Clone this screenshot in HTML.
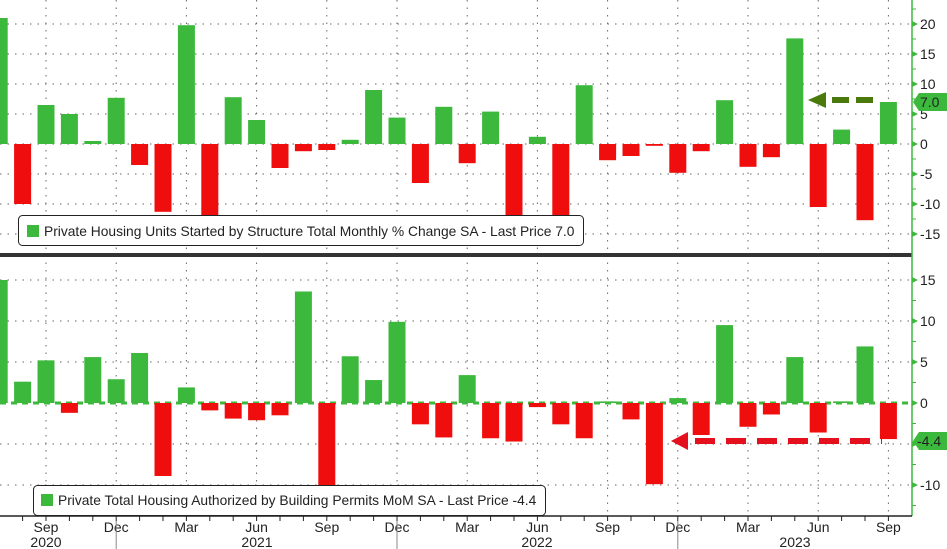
<!DOCTYPE html><html><head><style>body{margin:0;background:#fff}svg{display:block;font-family:"Liberation Sans",sans-serif}</style></head><body>
<svg id="s" width="947" height="549" xmlns="http://www.w3.org/2000/svg">
<defs><clipPath id="ct"><rect x="0" y="0" width="912" height="253"/></clipPath><clipPath id="cb"><rect x="0" y="258" width="912" height="258"/></clipPath></defs>
<g id="grid" stroke="#666" stroke-width="1" stroke-dasharray="1.5,6"></g>
<g id="bt" clip-path="url(#ct)"></g>
<g id="bb" clip-path="url(#cb)"></g>
<rect x="0" y="253" width="912" height="4" fill="#333"/>
<line x1="912" y1="0" x2="912" y2="516" stroke="#3fb83f" stroke-width="1.5"/>
<line x1="0" y1="516" x2="912" y2="516" stroke="#222" stroke-width="1.5"/>
<g id="ax" font-size="14" fill="#222"></g>
<rect x="18.5" y="215.5" width="565" height="30" rx="4" fill="#fff" stroke="#222"/>
<rect x="27" y="225" width="12" height="12" fill="#3cb93c"/>
<text x="44" y="236" font-size="13.8" fill="#222">Private Housing Units Started by Structure Total Monthly % Change SA - Last Price 7.0</text>
<rect x="33.5" y="485.5" width="512" height="30" rx="4" fill="#fff" stroke="#222"/>
<rect x="41" y="494" width="12" height="12" fill="#3cb93c"/>
<text x="58" y="505" font-size="13.8" fill="#222">Private Total Housing Authorized by Building Permits MoM SA - Last Price -4.4</text>
<line x1="832" y1="100" x2="873" y2="100" stroke="#4a7a0c" stroke-width="6" stroke-dasharray="17,7"/>
<polygon points="808,100 826,92 826,108" fill="#4a7a0c"/>
<line x1="695" y1="441" x2="882" y2="441" stroke="#e5101d" stroke-width="6" stroke-dasharray="20,11"/>
<polygon points="671,441 688,432 688,450" fill="#e5101d"/>
<polygon points="913,102 919,93 947,93 947,111 919,111" fill="#3cb93c"/>
<text x="920" y="107" font-size="14" fill="#222">7.0</text>
<polygon points="913,441 919,432 947,432 947,450 919,450" fill="#3cb93c"/>
<text x="917" y="446" font-size="14" fill="#222">-4.4</text>
</svg>
<script>
var NS="http://www.w3.org/2000/svg",s=document.getElementById('s');
function el(p,t,a,tx){var e=document.createElementNS(NS,t);for(var k in a)e.setAttribute(k,a[k]);if(tx!=null)e.textContent=tx;document.getElementById(p).appendChild(e);return e;}
var T=[21,-10,6.5,5,0.5,7.7,-3.5,-11.3,19.8,-12.5,7.8,4,-4,-1.2,-1,0.7,9,4.4,-6.5,6.2,-3.2,5.4,-12.5,1.2,-12.5,9.8,-2.7,-2,-0.3,-4.8,-1.2,7.3,-3.8,-2.2,17.6,-10.5,2.4,-12.7,7.0];
var B=[15,2.6,5.2,-1.2,5.6,2.9,6.1,-8.9,1.9,-0.9,-1.9,-2.1,-1.5,13.6,-10.5,5.7,2.8,9.9,-2.6,-4.2,3.4,-4.3,-4.7,-0.5,-2.6,-4.3,0.2,-2,-9.9,0.6,-3.9,9.5,-2.9,-1.4,5.6,-3.6,0.2,6.9,-4.4];
function cx(i){return -0.8+23.4*i;}
for(var i=2;i<=38;i+=3){var x=cx(i);el('grid','line',{x1:x,y1:0,x2:x,y2:516});}
[20,15,10,5,0,-5,-10,-15].forEach(function(v){var y=144-6*v;el('grid','line',{x1:0,y1:y,x2:912,y2:y});el('ax','text',{x:920,y:y+5},String(v));el('ax','polygon',{points:(912)+','+(y-3)+' 918,'+y+' 912,'+(y+3),fill:'#3cb93c'});});
[15,10,5,0,-5,-10].forEach(function(v){var y=403-8.2*v;if(v!=0)el('grid','line',{x1:0,y1:y,x2:912,y2:y});el('ax','text',{x:920,y:y+5},String(v));el('ax','polygon',{points:(912)+','+(y-3)+' 918,'+y+' 912,'+(y+3),fill:'#3cb93c'});});
el('grid','line',{x1:0,y1:403,x2:912,y2:403,stroke:'#3cb93c','stroke-width':3,'stroke-dasharray':'6,5'});
for(var v=-12.5;v<=22.5;v+=5){var y=144-6*v;el('ax','line',{x1:912,y1:y,x2:916,y2:y,stroke:'#3cb93c'});}
for(var v=-12.5;v<=12.5;v+=5){var y=403-8.2*v;el('ax','line',{x1:912,y1:y,x2:916,y2:y,stroke:'#3cb93c'});}
T.forEach(function(v,i){var y0=144,y1=144-6*v;el('bt','rect',{x:cx(i)-8.5,y:Math.min(y0,y1),width:17,height:Math.abs(y1-y0),fill:v>=0?'#3cb93c':'#ef0d0d'});});
B.forEach(function(v,i){var y0=403,y1=403-8.2*v;el('bb','rect',{x:cx(i)-8.5,y:Math.min(y0,y1),width:17,height:Math.abs(y1-y0),fill:v>=0?'#3cb93c':'#ef0d0d'});});
var mn=['Sep','Dec','Mar','Jun'];
for(var i=0;i<=38;i++){var x=cx(i);el('ax','line',{x1:x,y1:516,x2:x,y2:521,stroke:'#222'});}
for(var k=0,i=2;i<=38;i+=3,k++){el('ax','text',{x:cx(i),y:532,'text-anchor':'middle'},mn[k%4]);}
[5,17,29].forEach(function(i){el('ax','line',{x1:cx(i),y1:521,x2:cx(i),y2:549,stroke:'#888'});});
[[46,'2020'],[257,'2021'],[537,'2022'],[795,'2023']].forEach(function(a){el('ax','text',{x:a[0],y:547,'text-anchor':'middle'},a[1]);});
</script>
</body></html>
